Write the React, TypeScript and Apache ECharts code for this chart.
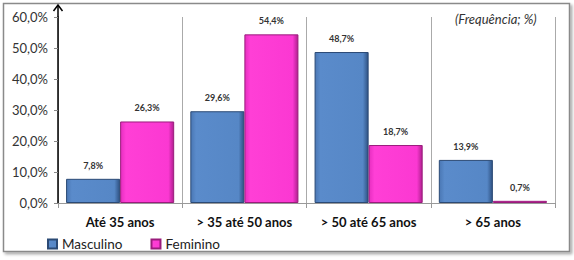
import React, { useEffect, useRef } from "react";
import * as echarts from "echarts";

const categories = ["Até 35 anos", "> 35 até 50 anos", "> 50 até 65 anos", "> 65 anos"];
const masculino = [7.8, 29.6, 48.7, 13.9];
const feminino = [26.3, 54.4, 18.7, 0.7];
const seriesNames = ["Masculino", "Feminino"];
const note = "(Frequência; %)";

const FONT = "Lato, 'Open Sans', sans-serif";

export default function App() {
  const ref = useRef<HTMLDivElement>(null);
  useEffect(() => {
    document.body.style.margin = "0";
    if (!ref.current) return;
    const chart = echarts.init(ref.current, undefined, { renderer: "svg" });
    const fmt = (v: number) => v.toFixed(1).replace(".", ",") + "%";
    const label = {
      show: true,
      position: "top" as const,
      distance: 9,
      fontSize: 9,
      fontWeight: "bold" as const,
      color: "#333",
      fontFamily: FONT,
      formatter: (p: any) => fmt(p.value),
    };
    chart.setOption({
      animation: false,
      textStyle: { fontFamily: FONT },
      grid: { left: 58, right: 19, top: 17, bottom: 57 },
      legend: {
        left: 42,
        top: 232,
        itemWidth: 9,
        itemHeight: 9,
        itemGap: 28,
        itemTextGap: 4,
        icon: "rect",
        textStyle: { fontSize: 13.5, color: "#222", fontFamily: FONT },
        data: seriesNames,
      },
      xAxis: {
        type: "category",
        data: categories,
        axisLine: { lineStyle: { color: "#999" } },
        axisTick: { show: true, length: 5, interval: 0, lineStyle: { color: "#999" } },
        axisLabel: { interval: 0, fontSize: 13, fontWeight: "bold", color: "#111", margin: 12, fontFamily: FONT },
        splitLine: { show: true, interval: 0, lineStyle: { color: "#aaa", width: 1 } },
      },
      yAxis: {
        type: "value",
        min: 0,
        max: 60,
        interval: 10,
        axisLine: { show: true, lineStyle: { color: "#000", width: 1.5 } },
        axisTick: { show: true, length: 4, lineStyle: { color: "#888" } },
        axisLabel: {
          fontSize: 13,
          color: "#333",
          margin: 10,
          fontFamily: FONT,
          formatter: (v: number) => fmt(v),
        },
        splitLine: { show: false },
      },
      series: [
        {
          name: seriesNames[0],
          type: "bar",
          data: masculino,
          barGap: "0%",
          barCategoryGap: "13%",
          itemStyle: {
            color: new echarts.graphic.LinearGradient(0, 0, 1, 0, [
              { offset: 0, color: "#4a77b4" },
              { offset: 0.1, color: "#5a8bcb" },
              { offset: 0.9, color: "#5687c6" },
              { offset: 1, color: "#2f5283" },
            ]),
            borderColor: "#2b4a75",
            borderWidth: 1,
          },
          label,
        },
        {
          name: seriesNames[1],
          type: "bar",
          data: feminino,
          itemStyle: {
            color: new echarts.graphic.LinearGradient(0, 0, 1, 0, [
              { offset: 0, color: "#e62ec0" },
              { offset: 0.1, color: "#ff3fd6" },
              { offset: 0.9, color: "#fb38d2" },
              { offset: 1, color: "#b01f8f" },
            ]),
            borderColor: "#9a1c7c",
            borderWidth: 1,
          },
          label,
        },
      ],
      graphic: [
        {
          type: "rect",
          z: -10,
          shape: { x: 3.5, y: 3.5, width: 566, height: 248 },
          style: { fill: "#fff", stroke: "#8a8a8a", lineWidth: 1.5, shadowBlur: 3, shadowColor: "rgba(0,0,0,0.35)", shadowOffsetX: 2, shadowOffsetY: 2 },
        },
        {
          type: "line",
          shape: { x1: 58, y1: 17, x2: 58, y2: 6 },
          style: { stroke: "#000", lineWidth: 1.5 },
        },
        {
          type: "polyline",
          shape: { points: [[53.5, 11], [58, 5], [62.5, 11]] },
          style: { stroke: "#000", lineWidth: 1.5, fill: "none" },
        },
        {
          type: "text",
          x: 455,
          y: 12,
          style: { text: note, fontSize: 13, fontStyle: "italic", fill: "#333", fontFamily: FONT },
        },
      ],
    });
    return () => chart.dispose();
  }, []);
  return <div ref={ref} style={{ width: 574, height: 260 }} />;
}
